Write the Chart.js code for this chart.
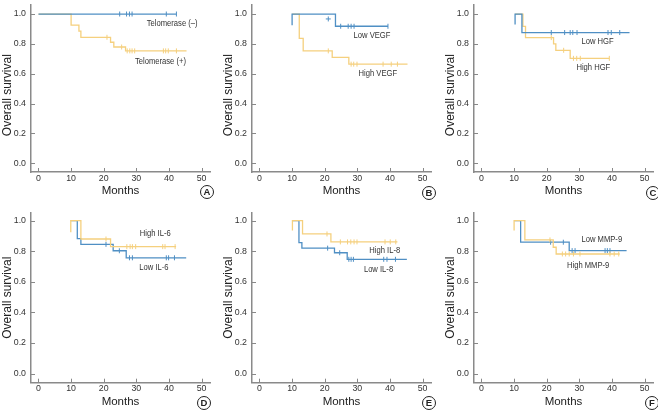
<!DOCTYPE html>
<html>
<head>
<meta charset="utf-8">
<script src="https://cdn.jsdelivr.net/npm/chart.js@4.4.1/dist/chart.umd.min.js"></script>
<style>
    body { margin: 0; background: #fff; }
    #fig { position: relative; width: 658px; height: 412px; overflow: hidden; }
    #fig canvas { position: absolute; }
    .tag {
        position: absolute; width: 12px; height: 12px; line-height: 12px;
        border: 1.2px solid #222; border-radius: 50%; background: #fff;
        font: bold 9.5px 'Liberation Sans', Arial, sans-serif; color: #222; text-align: center;
    }
</style>
</head>
<body>
<div id="fig">
    <canvas id="kmA" width="215" height="200" style="left:0;top:0"></canvas>
    <canvas id="kmB" width="215" height="200" style="left:221px;top:0"></canvas>
    <canvas id="kmC" width="215" height="200" style="left:443px;top:0"></canvas>
    <canvas id="kmD" width="215" height="212" style="left:0;top:200px"></canvas>
    <canvas id="kmE" width="215" height="212" style="left:221px;top:200px"></canvas>
    <canvas id="kmF" width="215" height="212" style="left:443px;top:200px"></canvas>
    <div class="tag" style="left:200px;top:185px">A</div>
    <div class="tag" style="left:422px;top:186px">B</div>
    <div class="tag" style="left:646px;top:186px">C</div>
    <div class="tag" style="left:197px;top:396px">D</div>
    <div class="tag" style="left:422px;top:396px">E</div>
    <div class="tag" style="left:645px;top:396px">F</div>
</div>
<script>
// axis ticks
let xTicks = [0, 10, 20, 30, 40, 50];
let yTicks = [0, 0.2, 0.4, 0.6, 0.8, 1.0];

// A - telomerase
let telNegT = [0, 42.3];
let telNegS = [1, 1];
let telNegCens = [24.9, 27, 27.9, 28.7, 39.2, 42.3];
let telPosT = [0, 10, 12.4, 13, 22.1, 23.1, 26.7, 45.4];
let telPosS = [1, 0.926, 0.885, 0.844, 0.811, 0.779, 0.753, 0.753];
let telPosCens = [21, 25.5, 27.2, 28, 28.7, 29.5, 38.3, 39, 39.8, 42.3];

// B - VEGF
let vegfLowT = [10, 10, 23.3, 39.4];
let vegfLowS = [0.924, 1, 0.918, 0.918];
let vegfLowCens = [24.9, 27.2, 28.1, 29, 39.4];
let vegfLowCrossT = [21.1];
let vegfLowCrossS = [0.967];
let vegfHighT = [10, 12.2, 13.4, 22.3, 27.4, 45.4];
let vegfHighS = [1, 0.837, 0.753, 0.709, 0.664, 0.664];
let vegfHighCens = [21.1, 28.1, 28.9, 29.9, 37.9, 40.4, 42.3];

// C - HGF
let hgfLowT = [10.3, 10.3, 12.4, 45.4];
let hgfLowS = [0.93, 1, 0.876, 0.876];
let hgfLowCens = [21.4, 25.5, 27.2, 28, 29.3, 38.8, 39.8, 42.4];
let hgfHighT = [10.3, 12.7, 13.5, 22.1, 22.8, 27.2, 39.2];
let hgfHighS = [1, 0.917, 0.842, 0.8, 0.757, 0.703, 0.703];
let hgfHighCens = [21.4, 25.2, 28.2, 29.2, 30.3, 39.2];

// D - IL-6
let il6HighT = [9.9, 9.9, 13, 22.1, 42.2];
let il6HighS = [0.924, 1, 0.88, 0.83, 0.83];
let il6HighCens = [20.7, 27.1, 28.1, 28.8, 29.8, 38.1, 38.8, 41.9];
let il6LowT = [9.9, 11.9, 13, 22.9, 26.9, 45.3];
let il6LowS = [1, 0.882, 0.845, 0.803, 0.757, 0.757];
let il6LowCens = [20.7, 24.8, 27.9, 28.8, 39.2, 39.9, 41.7];

// E - IL-8
let il8HighT = [10.1, 10.1, 13.2, 21.9, 42.3];
let il8HighS = [0.935, 1, 0.913, 0.861, 0.861];
let il8HighCens = [20.7, 24.8, 27, 28, 29, 29.9, 38.5, 40.1, 41.8];
let il8LowT = [10.1, 12.1, 13, 23, 26.9, 45.2];
let il8LowS = [1, 0.856, 0.82, 0.79, 0.747, 0.747];
let il8LowCens = [20.9, 24.6, 27.4, 28.1, 28.8, 38.1, 39.1, 41.7];

// F - MMP-9
let mmpHighT = [10, 10, 13.3, 22, 22.9, 42.4];
let mmpHighS = [0.935, 1, 0.874, 0.826, 0.782, 0.782];
let mmpHighCens = [21, 24.8, 25.8, 26.9, 28.2, 30.2, 39.4, 40.7, 42.1];
let mmpLowT = [10, 12, 26.9, 44.5];
let mmpLowS = [1, 0.859, 0.804, 0.804];
let mmpLowCens = [21.2, 25.1, 27.8, 28.7, 37.9, 38.6, 39.4];

let BLUE = '#4f8fc4';
let YELLOW = '#f5d07e';
let FONT = "'Liberation Sans', Arial, sans-serif";

Chart.defaults.font.family = FONT;
Chart.defaults.color = '#333';

function toPoints(t, s) {
    return t.map((v, i) => ({ x: v, y: s[i] }));
}

// survival value of the step curve at time tc
function survAt(t, s, tc) {
    let y = s[0];
    for (let i = 0; i < t.length; i++) {
        if (t[i] <= tc) y = s[i];
    }
    return y;
}

function curve(t, s, color) {
    return {
        data: toPoints(t, s),
        borderColor: color,
        borderWidth: 1.3,
        stepped: 'before',
        pointRadius: 0,
        fill: false
    };
}

function censors(t, s, cens, color) {
    return {
        data: cens.map(c => ({ x: c, y: survAt(t, s, c) })),
        showLine: false,
        pointStyle: 'line',
        rotation: 90,
        pointRadius: 2.5,
        pointBorderWidth: 1,
        pointBorderColor: color,
        borderColor: color
    };
}

// short inward tick marks on both axes + series names (condensed text)
let kmDecor = {
    id: 'kmDecor',
    afterDatasetsDraw(chart, args, opts) {
        let ctx = chart.ctx;
        let area = chart.chartArea;
        let xs = chart.scales.x, ys = chart.scales.y;
        ctx.save();
        ctx.strokeStyle = '#888';
        ctx.lineWidth = 1;
        ctx.beginPath();
        xTicks.forEach(v => {
            let px = Math.round(xs.getPixelForValue(v)) + 0.5;
            ctx.moveTo(px, area.bottom);
            ctx.lineTo(px, area.bottom - 4);
        });
        yTicks.forEach(v => {
            let py = Math.round(ys.getPixelForValue(v)) + 0.5;
            ctx.moveTo(area.left, py);
            ctx.lineTo(area.left + 4, py);
        });
        ctx.stroke();
        ctx.fillStyle = '#333';
        ctx.font = '9.3px ' + FONT;
        ctx.textAlign = 'center';
        ctx.textBaseline = 'middle';
        (opts.names || []).forEach(n => {
            ctx.save();
            ctx.translate(xs.getPixelForValue(n.x), ys.getPixelForValue(n.y));
            ctx.scale(0.82, 1);
            ctx.fillText(n.text, 0, 0);
            ctx.restore();
        });
        ctx.restore();
    }
};

function makePanel(id, datasets, names, row) {
    let h = row === 0 ? 200 : 212;
    let top = row === 0 ? 0 : 12.7;
    let bottom = row === 0 ? 172 : 182.7;
    let yMin = row === 0 ? -0.0586 : -0.06;
    let yMax = row === 0 ? 1.0605 : 1.052;
    // top row title sits a little lower in the original
    let yTitle = row === 0 ? 'Overall survival    ' : 'Overall survival';
    let axisBorder = { display: true, color: '#8a8a8a', width: 1.5 };

    return new Chart(document.getElementById(id).getContext('2d'), {
        type: 'line',
        data: { datasets: datasets },
        options: {
            responsive: false,
            animation: false,
            events: [],
            layout: { padding: { left: 0, right: 5, top: top, bottom: 0 } },
            plugins: {
                legend: { display: false },
                tooltip: { enabled: false },
                kmDecor: { names: names }
            },
            scales: {
                x: {
                    type: 'linear',
                    min: -2.3,
                    max: 52.6,
                    grid: { display: false, drawTicks: false },
                    border: axisBorder,
                    afterBuildTicks: s => { s.ticks = xTicks.map(v => ({ value: v })); },
                    afterFit: s => { s.height = h - bottom; s.paddingLeft = 0; s.paddingRight = 0; },
                    ticks: { font: { size: 8.8 }, padding: 1, color: '#333' },
                    title: {
                        display: true, text: 'Months', color: '#222',
                        font: { size: 11.5, lineHeight: 1.2 },
                        padding: { top: 0, bottom: row === 0 ? 2 : 3 }
                    }
                },
                y: {
                    min: yMin,
                    max: yMax,
                    grid: { display: false, drawTicks: false },
                    border: axisBorder,
                    afterBuildTicks: s => { s.ticks = yTicks.map(v => ({ value: v })); },
                    afterFit: s => { s.width = 31; s.paddingTop = 0; s.paddingBottom = 0; },
                    ticks: { font: { size: 8.8 }, padding: 5, color: '#333', callback: v => v.toFixed(1) },
                    title: {
                        display: true, text: yTitle, color: '#222',
                        font: { size: 12, lineHeight: 1.2 },
                        padding: { top: 0, bottom: 0 }
                    }
                }
            }
        },
        plugins: [kmDecor]
    });
}

//- A -
makePanel('kmA', [
    curve(telNegT, telNegS, BLUE),
    censors(telNegT, telNegS, telNegCens, BLUE),
    curve(telPosT, telPosS, YELLOW),
    censors(telPosT, telPosS, telPosCens, YELLOW)
], [
    { text: 'Telomerase (–)', x: 41.0, y: 0.937 },
    { text: 'Telomerase (+)', x: 37.4, y: 0.681 }
], 0);

//- B -
let vegfCross = {
    data: toPoints(vegfLowCrossT, vegfLowCrossS),
    showLine: false,
    pointStyle: 'cross',
    pointRadius: 2.5,
    pointBorderWidth: 1,
    pointBorderColor: BLUE,
    borderColor: BLUE
};
makePanel('kmB', [
    curve(vegfLowT, vegfLowS, BLUE),
    censors(vegfLowT, vegfLowS, vegfLowCens, BLUE),
    vegfCross,
    curve(vegfHighT, vegfHighS, YELLOW),
    censors(vegfHighT, vegfHighS, vegfHighCens, YELLOW)
], [
    { text: 'Low VEGF', x: 34.5, y: 0.859 },
    { text: 'High VEGF', x: 36.3, y: 0.599 }
], 0);

//- C -
makePanel('kmC', [
    curve(hgfLowT, hgfLowS, BLUE),
    censors(hgfLowT, hgfLowS, hgfLowCens, BLUE),
    curve(hgfHighT, hgfHighS, YELLOW),
    censors(hgfHighT, hgfHighS, hgfHighCens, YELLOW)
], [
    { text: 'Low HGF', x: 35.6, y: 0.815 },
    { text: 'High HGF', x: 34.3, y: 0.64 }
], 0);

//- D -
makePanel('kmD', [
    curve(il6HighT, il6HighS, YELLOW),
    censors(il6HighT, il6HighS, il6HighCens, YELLOW),
    curve(il6LowT, il6LowS, BLUE),
    censors(il6LowT, il6LowS, il6LowCens, BLUE)
], [
    { text: 'High IL-6', x: 35.8, y: 0.917 },
    { text: 'Low IL-6', x: 35.4, y: 0.695 }
], 1);

//- E -
makePanel('kmE', [
    curve(il8HighT, il8HighS, YELLOW),
    censors(il8HighT, il8HighS, il8HighCens, YELLOW),
    curve(il8LowT, il8LowS, BLUE),
    censors(il8LowT, il8LowS, il8LowCens, BLUE)
], [
    { text: 'High IL-8', x: 38.4, y: 0.804 },
    { text: 'Low IL-8', x: 36.5, y: 0.682 }
], 1);

//- F -
makePanel('kmF', [
    curve(mmpHighT, mmpHighS, YELLOW),
    censors(mmpHighT, mmpHighS, mmpHighCens, YELLOW),
    curve(mmpLowT, mmpLowS, BLUE),
    censors(mmpLowT, mmpLowS, mmpLowCens, BLUE)
], [
    { text: 'Low MMP-9', x: 36.9, y: 0.874 },
    { text: 'High MMP-9', x: 32.7, y: 0.708 }
], 1);
</script>
</body>
</html>
